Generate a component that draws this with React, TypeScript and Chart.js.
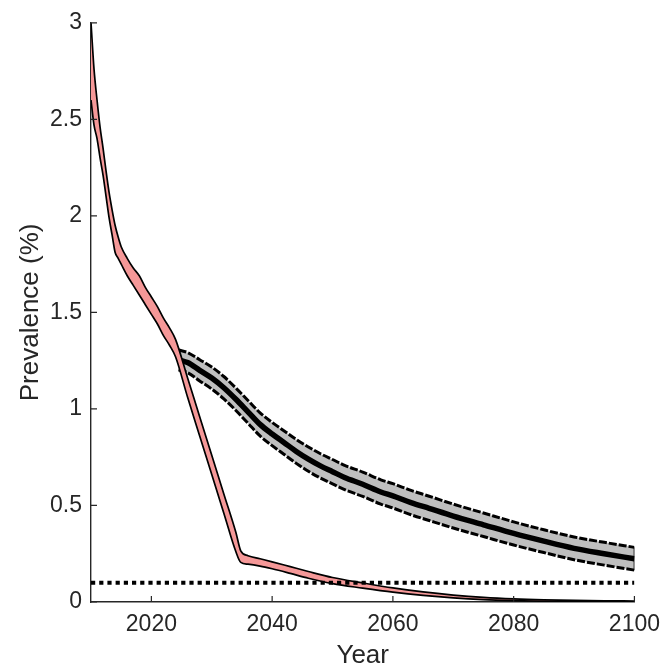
import React, { useEffect, useRef } from "react";
import { Chart, registerables } from "chart.js";

Chart.register(...registerables);

// ---- Data ----
const pinkYears = [2010, 2010.5, 2011, 2011.5, 2012, 2012.5, 2013, 2013.5, 2014, 2014.5, 2015, 2016, 2017, 2018, 2019, 2020, 2021, 2022, 2023, 2024, 2026, 2028, 2030, 2032, 2034, 2034.8, 2036, 2038, 2040, 2043, 2046, 2050, 2055, 2060, 2065, 2070, 2075, 2080, 2085, 2090, 2095, 2100];
const pinkUpper = [3.0, 2.76, 2.6, 2.46, 2.35, 2.23, 2.12, 2.03, 1.95, 1.89, 1.84, 1.78, 1.73, 1.69, 1.63, 1.58, 1.53, 1.47, 1.42, 1.36, 1.16, 0.96, 0.76, 0.56, 0.36, 0.265, 0.24, 0.224, 0.208, 0.183, 0.158, 0.127, 0.099, 0.073, 0.052, 0.036, 0.024, 0.016, 0.011, 0.008, 0.006, 0.005];
const pinkLower = [2.6, 2.47, 2.4, 2.3, 2.21, 2.1, 1.99, 1.9, 1.81, 1.78, 1.75, 1.69, 1.64, 1.59, 1.54, 1.49, 1.44, 1.38, 1.33, 1.27, 1.06, 0.86, 0.66, 0.46, 0.26, 0.205, 0.196, 0.186, 0.172, 0.148, 0.123, 0.095, 0.072, 0.051, 0.034, 0.021, 0.012, 0.007, 0.004, 0.002, 0.001, 0.001];

const grayYears = [2024.5, 2026, 2028, 2030, 2032, 2034, 2036, 2038, 2040, 2042, 2044, 2046, 2048, 2050, 2052, 2055, 2058, 2060, 2063, 2066, 2070, 2075, 2080, 2085, 2090, 2095, 2100];
const grayCenter = [1.255, 1.24, 1.2, 1.16, 1.11, 1.05, 0.985, 0.92, 0.87, 0.825, 0.78, 0.74, 0.705, 0.675, 0.645, 0.61, 0.57, 0.55, 0.515, 0.485, 0.445, 0.4, 0.355, 0.315, 0.278, 0.25, 0.224];
const grayUpper = [1.305, 1.292, 1.255, 1.217, 1.168, 1.108, 1.044, 0.98, 0.93, 0.886, 0.842, 0.803, 0.768, 0.738, 0.708, 0.673, 0.633, 0.613, 0.578, 0.548, 0.507, 0.461, 0.415, 0.374, 0.337, 0.309, 0.283];
const grayLower = [1.203, 1.188, 1.145, 1.103, 1.052, 0.992, 0.926, 0.86, 0.81, 0.764, 0.718, 0.677, 0.642, 0.612, 0.582, 0.547, 0.507, 0.487, 0.452, 0.422, 0.383, 0.339, 0.295, 0.256, 0.219, 0.191, 0.165];

const thresholdYears = [2010, 2100];
const thresholdValue = 0.1;

const xTickValues = [2020, 2040, 2060, 2080, 2100];
const yTickValues = [0, 0.5, 1, 1.5, 2, 2.5, 3];

// ---- Styles ----
const AXIS_COLOR = "#262626";
const PINK = "rgb(245,152,152)";
const GRAY = "rgb(191,191,191)";
const FONT = "'Liberation Sans', Arial, Helvetica, sans-serif";

const pts = (xs: number[], ys: number[]) => xs.map((x, i) => ({ x, y: ys[i] }));

const inwardTicks = {
  id: "inwardTicks",
  afterDatasetsDraw(chart: any) {
    const { ctx, chartArea, scales } = chart;
    ctx.save();
    ctx.strokeStyle = AXIS_COLOR;
    ctx.lineWidth = 1.2;
    ctx.beginPath();
    for (const v of xTickValues) {
      const px = scales.x.getPixelForValue(v);
      ctx.moveTo(px, chartArea.bottom);
      ctx.lineTo(px, chartArea.bottom - 6);
    }
    for (const v of yTickValues) {
      const py = scales.y.getPixelForValue(v);
      ctx.moveTo(chartArea.left, py);
      ctx.lineTo(chartArea.left + 6, py);
    }
    ctx.stroke();
    ctx.restore();
  },
};

export default function App() {
  const canvasRef = useRef<HTMLCanvasElement | null>(null);

  useEffect(() => {
    if (!canvasRef.current) return;
    const chart = new Chart(canvasRef.current, {
      type: "line",
      data: {
        datasets: [
          {
            label: "threshold",
            data: thresholdYears.map((x) => ({ x, y: thresholdValue })),
            borderColor: "#000",
            borderWidth: 4,
            borderDash: [4.2, 4],
            borderCapStyle: "butt",
            pointRadius: 0,
            fill: false,
          },
          {
            label: "pinkLower",
            data: pts(pinkYears, pinkLower),
            borderColor: "#000",
            borderWidth: 1.7,
            pointRadius: 0,
            fill: false,
            cubicInterpolationMode: "monotone",
          },
          {
            label: "pinkUpper",
            data: pts(pinkYears, pinkUpper),
            borderColor: "#000",
            borderWidth: 1.7,
            backgroundColor: PINK,
            pointRadius: 0,
            fill: 1,
            cubicInterpolationMode: "monotone",
          },
          {
            label: "grayCenter",
            data: pts(grayYears, grayCenter),
            borderColor: "#000",
            borderWidth: 5.5,
            pointRadius: 0,
            fill: false,
            cubicInterpolationMode: "monotone",
          },
          {
            label: "grayCap",
            data: [
              { x: grayYears[grayYears.length - 1], y: grayLower[grayLower.length - 1] },
              { x: grayYears[grayYears.length - 1], y: grayUpper[grayUpper.length - 1] },
            ],
            borderColor: "#000",
            borderWidth: 1.5,
            pointRadius: 0,
            fill: false,
          },
          {
            label: "grayLower",
            data: pts(grayYears, grayLower),
            borderColor: "#000",
            borderWidth: 3,
            borderDash: [8, 2],
            pointRadius: 0,
            fill: false,
            cubicInterpolationMode: "monotone",
          },
          {
            label: "grayUpper",
            data: pts(grayYears, grayUpper),
            borderColor: "#000",
            borderWidth: 3,
            borderDash: [8, 2],
            backgroundColor: GRAY,
            pointRadius: 0,
            fill: 5,
            cubicInterpolationMode: "monotone",
          },
        ],
      },
      options: {
        animation: false,
        responsive: false,
        devicePixelRatio: 1,
        layout: { padding: { left: 0, right: 32, top: 18, bottom: 0 } },
        plugins: {
          legend: { display: false },
          tooltip: { enabled: false },
        },
        scales: {
          x: {
            type: "linear",
            min: 2010,
            max: 2100,
            afterFit: (s: any) => {
              s.height = 68;
            },
            afterBuildTicks: (s: any) => {
              s.ticks = xTickValues.map((v) => ({ value: v }));
            },
            grid: { display: false, drawTicks: false },
            border: { display: true, color: AXIS_COLOR, width: 1.4 },
            ticks: {
              padding: 9,
              color: AXIS_COLOR,
              font: { family: FONT, size: 23 },
              maxRotation: 0,
              autoSkip: false,
              callback: (v: any) => String(v),
            },
            title: {
              display: true,
              text: "Year",
              color: AXIS_COLOR,
              font: { family: FONT, size: 26 },
              padding: { top: 0, bottom: -1 },
            },
          },
          y: {
            type: "linear",
            min: 0,
            max: 3,
            afterFit: (s: any) => {
              s.width = 91;
            },
            afterBuildTicks: (s: any) => {
              s.ticks = yTickValues.map((v) => ({ value: v }));
            },
            grid: { display: false, drawTicks: false },
            border: { display: true, color: AXIS_COLOR, width: 1.4 },
            ticks: {
              padding: 9,
              color: AXIS_COLOR,
              font: { family: FONT, size: 23 },
              autoSkip: false,
              callback: (v: any) => String(v),
            },
            title: {
              display: true,
              text: "Prevalence (%)",
              color: AXIS_COLOR,
              font: { family: FONT, size: 26 },
              padding: { top: 15, bottom: 0 },
            },
          },
        },
      },
      plugins: [inwardTicks],
    } as any);
    return () => chart.destroy();
  }, []);

  return (
    <div style={{ position: "absolute", left: 0, top: 0, width: 669, height: 670, background: "#fff" }}>
      <canvas ref={canvasRef} width={669} height={670} />
    </div>
  );
}
